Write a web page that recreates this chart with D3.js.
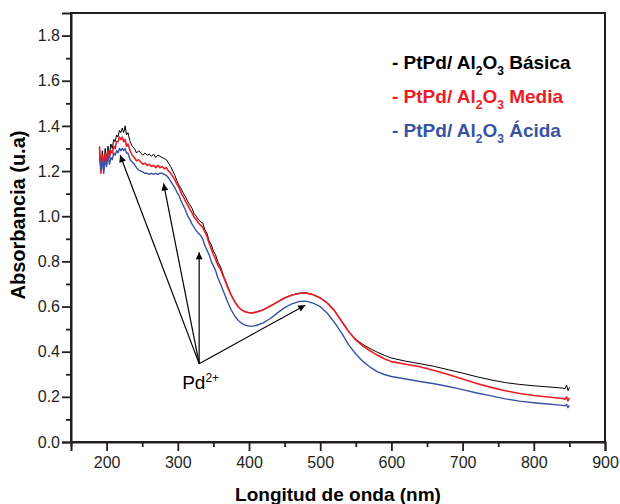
<!DOCTYPE html>
<html>
<head>
<meta charset="utf-8">
<script src="https://cdn.jsdelivr.net/npm/d3@7"></script>
<style>
    body { margin: 0; background: #fff; }
    svg { font-family: "Liberation Sans", Arial, sans-serif; }
</style>
</head>
<body>
<script>
// longitudes de onda (nm)
const wavelength = [
    190, 192, 194, 196, 198, 200, 202, 204, 206, 208, 210, 212, 214, 216, 218, 220, 222, 224, 226, 228, 230,
    233, 236, 239, 242, 245, 248, 251, 254, 257, 260, 263, 266, 269, 272, 275, 278, 281, 284, 287, 290, 293,
    296, 299, 302, 305, 308, 311, 314, 317, 320, 323, 326, 329, 332, 335, 338, 341, 344, 347, 350, 353, 356,
    360, 365, 370, 375, 380, 385, 390, 395, 400, 405, 410, 420, 430, 440, 450, 460, 470, 480,
    490, 500, 510, 520, 530, 540, 550, 560, 570, 580, 590, 600,
    620, 640, 660, 680, 700, 720, 740, 760, 780, 800, 820, 840, 844, 846, 848, 850
];

const basica = [
    1.30, 1.21, 1.29, 1.23, 1.30, 1.25, 1.31, 1.27, 1.32, 1.30, 1.34, 1.33, 1.36, 1.35, 1.38, 1.37, 1.39, 1.37, 1.40, 1.36, 1.37,
    1.33, 1.31, 1.30, 1.28, 1.29, 1.28, 1.27, 1.28, 1.27, 1.275, 1.265, 1.275, 1.26, 1.27, 1.265, 1.26, 1.255, 1.25, 1.235, 1.22, 1.20,
    1.18, 1.155, 1.135, 1.12, 1.10, 1.085, 1.065, 1.05, 1.035, 1.01, 1.00, 0.985, 0.975, 0.97, 0.94, 0.925, 0.89, 0.875, 0.845, 0.83, 0.80,
    0.775, 0.73, 0.69, 0.652, 0.622, 0.60, 0.585, 0.577, 0.573, 0.573, 0.576, 0.586, 0.603, 0.621, 0.639, 0.651, 0.659, 0.661,
    0.653, 0.639, 0.616, 0.583, 0.537, 0.49, 0.455, 0.432, 0.414, 0.398, 0.384, 0.372,
    0.358, 0.347, 0.335, 0.32, 0.305, 0.289, 0.275, 0.263, 0.255, 0.249, 0.244, 0.239, 0.236, 0.252, 0.228, 0.242
];

const media = [
    1.31, 1.19, 1.27, 1.22, 1.28, 1.24, 1.29, 1.26, 1.29, 1.28, 1.31, 1.30, 1.33, 1.33, 1.35, 1.34, 1.35, 1.33, 1.34, 1.31, 1.32,
    1.29, 1.27, 1.26, 1.245, 1.25, 1.24, 1.23, 1.235, 1.225, 1.23, 1.22, 1.225, 1.215, 1.225, 1.215, 1.22, 1.21, 1.215, 1.20, 1.19, 1.175,
    1.16, 1.14, 1.125, 1.10, 1.085, 1.065, 1.05, 1.03, 1.015, 0.995, 0.985, 0.97, 0.96, 0.95, 0.93, 0.91, 0.88, 0.855, 0.83, 0.81, 0.785,
    0.765, 0.725, 0.685, 0.65, 0.62, 0.598, 0.584, 0.576, 0.572, 0.572, 0.575, 0.585, 0.602, 0.62, 0.638, 0.65, 0.658, 0.66,
    0.652, 0.638, 0.615, 0.582, 0.535, 0.488, 0.452, 0.425, 0.404, 0.385, 0.369, 0.356,
    0.344, 0.333, 0.317, 0.299, 0.279, 0.259, 0.242, 0.227, 0.215, 0.206, 0.199, 0.193, 0.19, 0.20, 0.182, 0.195
];

const acida = [
    1.26, 1.21, 1.24, 1.19, 1.25, 1.22, 1.27, 1.23, 1.26, 1.25, 1.28, 1.27, 1.29, 1.28, 1.30, 1.29, 1.30, 1.29, 1.30, 1.28, 1.28,
    1.25, 1.24, 1.23, 1.215, 1.205, 1.20, 1.195, 1.19, 1.19, 1.185, 1.19, 1.185, 1.19, 1.185, 1.19, 1.19, 1.185, 1.18, 1.17, 1.155, 1.14,
    1.125, 1.105, 1.09, 1.065, 1.045, 1.025, 1.00, 0.985, 0.965, 0.95, 0.935, 0.925, 0.915, 0.90, 0.87, 0.85, 0.83, 0.80, 0.78, 0.76, 0.73,
    0.70, 0.66, 0.62, 0.585, 0.558, 0.538, 0.525, 0.517, 0.513, 0.513, 0.516, 0.528, 0.547, 0.572, 0.595, 0.612, 0.622, 0.624,
    0.615, 0.60, 0.57, 0.53, 0.483, 0.43, 0.39, 0.357, 0.332, 0.312, 0.299, 0.29,
    0.279, 0.268, 0.258, 0.246, 0.232, 0.217, 0.204, 0.191, 0.181, 0.174, 0.168, 0.162, 0.16, 0.167, 0.152, 0.162
];

const seriesNames = ["Básica", "Media", "Ácida"];
const seriesColors = ["#000000", "#ed1c24", "#3953a4"];
const seriesWidths = [1, 1.6, 1.4];

const xTicks = [200, 300, 400, 500, 600, 700, 800, 900];
const xMinorTicks = [150, 250, 350, 450, 550, 650, 750, 850];
const yTicks = [0, 0.2, 0.4, 0.6, 0.8, 1.0, 1.2, 1.4, 1.6, 1.8];
const yMinorTicks = [0.1, 0.3, 0.5, 0.7, 0.9, 1.1, 1.3, 1.5, 1.7];

// flechas Pd2+ : origen y puntas (nm, absorbancia)
const arrowOrigin = [330, 0.347];
const arrowTips = [[219, 1.27], [280, 1.145], [330, 0.84], [479, 0.606]];

const width = 620;
const height = 504;
const margin = { top: 13, right: 15, bottom: 62, left: 71 };

const svg = d3.select("body").append("svg")
    .attr("width", width)
    .attr("height", height);

const x = d3.scaleLinear().domain([150, 900]).range([margin.left, width - margin.right]);
const y = d3.scaleLinear().domain([0, 1.9]).range([height - margin.bottom, margin.top]);

const axisColor = "#231f20";

drawCurves();
drawFrame();
drawAxes();
drawArrows();
drawLegend();
drawTitles();

function drawCurves() {
    const data = [basica, media, acida];
    const line = d3.line()
        .x((d, i) => x(wavelength[i]))
        .y(d => y(d));

    svg.append("g")
        .attr("class", "curves")
        .selectAll("path")
        .data(data)
        .enter().append("path")
        .attr("d", d => line(d))
        .attr("fill", "none")
        .attr("stroke", (d, i) => seriesColors[i])
        .attr("stroke-width", (d, i) => seriesWidths[i])
        .attr("stroke-linejoin", "round");
}

function drawFrame() {
    svg.append("rect")
        .attr("x", x(150))
        .attr("y", y(1.9))
        .attr("width", x(900) - x(150))
        .attr("height", y(0) - y(1.9))
        .attr("fill", "none")
        .attr("stroke", axisColor)
        .attr("stroke-width", 2);
}

function drawAxes() {
    const xAxis = svg.append("g")
        .attr("transform", `translate(0,${y(0)})`)
        .call(d3.axisBottom(x).tickValues(xTicks).tickSize(9).tickPadding(6).tickFormat(d3.format("d")));

    svg.append("g")
        .attr("transform", `translate(0,${y(0)})`)
        .call(d3.axisBottom(x).tickValues(xMinorTicks).tickSize(5).tickFormat(""))
        .call(g => g.select(".domain").remove());

    const yAxis = svg.append("g")
        .attr("transform", `translate(${x(150)},0)`)
        .call(d3.axisLeft(y).tickValues(yTicks).tickSize(9).tickPadding(2).tickFormat(d3.format(".1f")));

    svg.append("g")
        .attr("transform", `translate(${x(150)},0)`)
        .call(d3.axisLeft(y).tickValues(yMinorTicks).tickSize(5).tickFormat(""))
        .call(g => g.select(".domain").remove());

    svg.selectAll(".tick line").attr("stroke", axisColor).attr("stroke-width", 1.8);
    svg.selectAll(".domain").attr("stroke", axisColor).attr("stroke-width", 2);
    svg.selectAll(".tick text")
        .attr("fill", "#231f20")
        .style("font-size", "16px")
        .style("font-family", "'Liberation Sans', Arial, sans-serif");
}

function drawArrows() {
    svg.append("defs").append("marker")
        .attr("id", "head")
        .attr("viewBox", "0 0 10 10")
        .attr("refX", 10)
        .attr("refY", 5)
        .attr("markerWidth", 11)
        .attr("markerHeight", 7)
        .attr("markerUnits", "userSpaceOnUse")
        .attr("orient", "auto")
        .append("path")
        .attr("d", "M0,0 L10,5 L0,10 Z")
        .attr("fill", "#000");

    svg.append("g")
        .attr("class", "arrows")
        .selectAll("line")
        .data(arrowTips)
        .enter().append("line")
        .attr("x1", x(arrowOrigin[0]))
        .attr("y1", y(arrowOrigin[1]))
        .attr("x2", d => x(d[0]))
        .attr("y2", d => y(d[1]))
        .attr("stroke", "#000")
        .attr("stroke-width", 1.2)
        .attr("marker-end", "url(#head)");

    const label = svg.append("text")
        .attr("x", x(arrowOrigin[0]) - 17)
        .attr("y", y(arrowOrigin[1]) + 25)
        .attr("fill", "#000")
        .style("font-size", "19px");
    label.append("tspan").text("Pd");
    label.append("tspan")
        .attr("dy", -7)
        .style("font-size", "12px")
        .text("2+");
}

function drawLegend() {
    const legend = svg.append("g").attr("class", "legend");
    seriesNames.forEach((name, i) => {
        const t = legend.append("text")
            .attr("x", 392)
            .attr("y", 69 + i * 34)
            .attr("fill", seriesColors[i])
            .style("font-size", "19px")
            .style("font-weight", "bold");
        t.append("tspan").text("- PtPd/ Al");
        t.append("tspan").attr("dy", 6).style("font-size", "12px").text("2");
        t.append("tspan").attr("dy", -6).text("O");
        t.append("tspan").attr("dy", 6).style("font-size", "12px").text("3");
        t.append("tspan").attr("dy", -6).text(" " + name);
    });
}

function drawTitles() {
    svg.append("text")
        .attr("x", (x(150) + x(900)) / 2)
        .attr("y", 501)
        .attr("text-anchor", "middle")
        .attr("fill", "#000")
        .style("font-size", "19px")
        .style("font-weight", "bold")
        .text("Longitud de onda (nm)");

    svg.append("text")
        .attr("transform", `translate(25,215) rotate(-90)`)
        .attr("text-anchor", "middle")
        .attr("fill", "#000")
        .style("font-size", "20px")
        .style("font-weight", "bold")
        .text("Absorbancia (u.a)");
}
</script>
</body>
</html>
